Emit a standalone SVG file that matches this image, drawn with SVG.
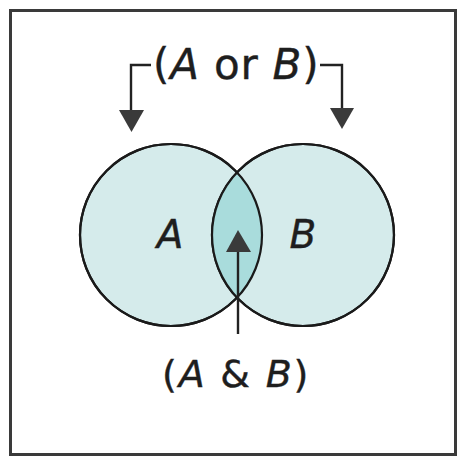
<svg xmlns="http://www.w3.org/2000/svg" width="458" height="458" viewBox="0 0 458 458">
<style>
.circ{fill:#d5ebeb;stroke:#1a1a1a;stroke-width:2.2}
.lbl{font-family:"DejaVu Sans","Open Sans",sans-serif;fill:#1e1e1e;stroke:#1e1e1e;stroke-width:0.4}
.it{font-style:italic}
.ln{fill:none;stroke:#222;stroke-width:2.4}
.head{fill:#3a3a3a}
</style>
<rect x="0" y="0" width="458" height="458" fill="#ffffff"/>
<rect x="10.5" y="10.5" width="445" height="444" fill="#ffffff" stroke="#3a3a3a" stroke-width="3"/>
<defs>
<clipPath id="clipA"><circle cx="171" cy="235" r="91"/></clipPath>
</defs>
<g id="circleA"><circle class="circ" cx="171" cy="235" r="91"/></g>
<g id="circleB"><circle class="circ" cx="303" cy="235" r="91"/></g>
<g id="intersection"><circle cx="303" cy="235" r="91" fill="#a9dcdc" clip-path="url(#clipA)"/>
<circle cx="171" cy="235" r="91" fill="none" stroke="#1a1a1a" stroke-width="2.2"/>
<circle cx="303" cy="235" r="91" fill="none" stroke="#1a1a1a" stroke-width="2.2"/></g>
<g id="labelA"><text class="lbl it" x="170" y="248" font-size="39" text-anchor="middle">A</text></g>
<g id="labelB"><text class="lbl it" x="303" y="248" font-size="39" text-anchor="middle">B</text></g>
<g id="orLabel"><text class="lbl" x="153" y="79" font-size="42" letter-spacing="0.8">(<tspan class="it">A</tspan> or <tspan class="it">B</tspan>)</text></g>
<g id="andLabel"><text class="lbl" x="162" y="387" font-size="38" letter-spacing="1.8">(<tspan class="it">A</tspan> &amp; <tspan class="it">B</tspan>)</text></g>
<g id="connectors">
<path class="ln" d="M151 65 H131 V112"/>
<polygon class="head" points="119,110 144,110 131.5,132"/>
<path class="ln" d="M320 65 H342 V110"/>
<polygon class="head" points="330,108 354,108 342,129"/>
<path class="ln" d="M238 334 V250"/>
<polygon class="head" points="238,230 226,252 251,252"/>
</g>
</svg>
